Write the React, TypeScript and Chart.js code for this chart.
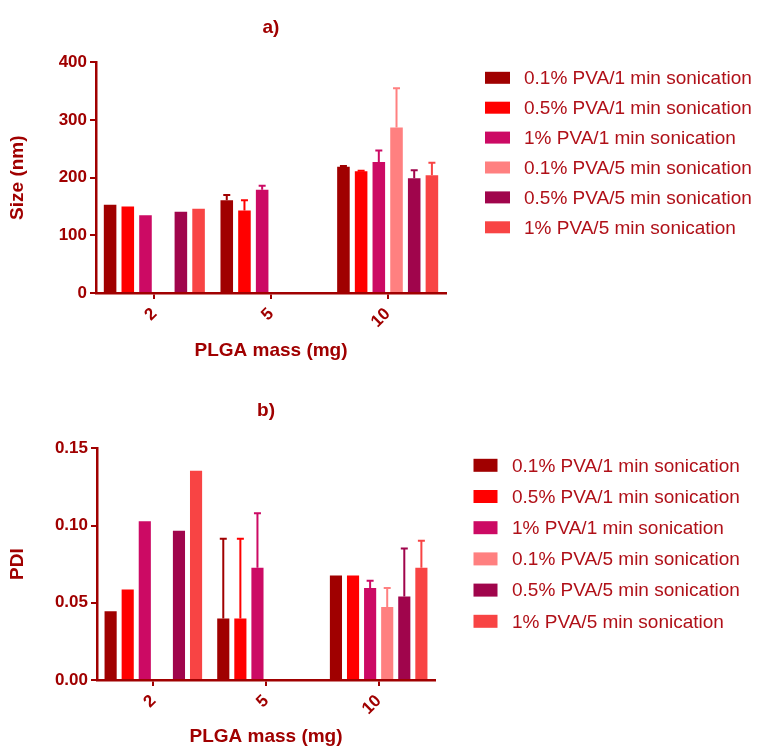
import React, { useEffect, useRef } from "react";
import { Chart, registerables } from "chart.js";

Chart.register(...registerables);

// ---- data ----
const categories = ["2", "5", "10"];
const seriesLabels = [
  "0.1% PVA/1 min sonication",
  "0.5% PVA/1 min sonication",
  "1% PVA/1 min sonication",
  "0.1% PVA/5 min sonication",
  "0.5% PVA/5 min sonication",
  "1% PVA/5 min sonication",
];
const seriesColors = ["#A00000", "#FF0000", "#CC0A64", "#FF8080", "#A0054C", "#F84444"];

// Size (nm) means
const size01_1 = [153, 161, 219];
const size05_1 = [150, 143, 211];
const size1_1 = [135, 179, 227];
const size01_5 = [null, null, 287];
const size05_5 = [141, null, 199];
const size1_5 = [146, null, 204];
// Size SD (upper error)
const sizeSd01_1 = [0, 9, 1];
const sizeSd05_1 = [0, 18, 1];
const sizeSd1_1 = [0, 7, 20];
const sizeSd01_5 = [null, null, 68];
const sizeSd05_5 = [0, null, 14];
const sizeSd1_5 = [0, null, 22];

// PDI means
const pdi01_1 = [0.0445, 0.0398, 0.0676];
const pdi05_1 = [0.0586, 0.0398, 0.0676];
const pdi1_1 = [0.1027, 0.0726, 0.0596];
const pdi01_5 = [null, null, 0.0473];
const pdi05_5 = [0.0966, null, 0.054];
const pdi1_5 = [0.1355, null, 0.0726];
// PDI SD (upper error)
const pdiSd01_1 = [0, 0.0516, 0];
const pdiSd05_1 = [0, 0.0516, 0];
const pdiSd1_1 = [0, 0.0354, 0.0046];
const pdiSd01_5 = [null, null, 0.0123];
const pdiSd05_5 = [0, null, 0.0312];
const pdiSd1_5 = [0, null, 0.0175];

const sizeTicks = [0, 100, 200, 300, 400];
const pdiTicks = [0, 0.05, 0.1, 0.15];

const AXIS = "#A00000";
const LEGEND_TEXT = "#B01018";
const FONT = "Arial, 'Liberation Sans', Helvetica, sans-serif";

const errorBarPlugin = {
  id: "errorBars",
  afterDatasetsDraw(chart: any) {
    const ctx = chart.ctx;
    const yScale = chart.scales.y;
    chart.data.datasets.forEach((ds: any, i: number) => {
      const meta = chart.getDatasetMeta(i);
      const errs = ds.errors || [];
      meta.data.forEach((el: any, j: number) => {
        const v = ds.data[j];
        const e = errs[j];
        if (v == null || e == null || e <= 0) return;
        const x = el.x;
        const y0 = yScale.getPixelForValue(v);
        const y1 = yScale.getPixelForValue(v + e);
        ctx.save();
        ctx.strokeStyle = ds.backgroundColor;
        ctx.lineWidth = 2;
        ctx.beginPath();
        ctx.moveTo(x, y0);
        ctx.lineTo(x, y1);
        ctx.moveTo(x - 3.5, y1);
        ctx.lineTo(x + 3.5, y1);
        ctx.stroke();
        ctx.restore();
      });
    });
  },
};

const sideLegendPlugin = {
  id: "sideLegend",
  afterDraw(chart: any, _args: any, opts: any) {
    const ctx = chart.ctx;
    const area = chart.chartArea;
    ctx.save();
    ctx.font = `${opts.fontSize}px ${FONT}`;
    ctx.textBaseline = "middle";
    ctx.textAlign = "left";
    chart.data.datasets.forEach((ds: any, i: number) => {
      const cy = area.top + opts.firstY + i * opts.step;
      ctx.fillStyle = ds.backgroundColor;
      ctx.fillRect(area.right + opts.boxX, cy - opts.boxH / 2, opts.boxW, opts.boxH);
      ctx.fillStyle = LEGEND_TEXT;
      ctx.fillText(ds.label, area.right + opts.textX, cy + 1);
    });
    ctx.restore();
  },
};

type Props = {
  title: string;
  yTitle: string;
  series: (number | null)[][];
  errors: (number | null)[][];
  yTicks: number[];
  decimals: number;
  height: number;
  top: number;
  yAxisWidth: number;
  padRight: number;
  titlePadTop: number;
  titlePadBottom: number;
  xAxisHeight: number;
  xTitlePadBottom: number;
  legend: any;
};

function BarPanel(p: Props) {
  const ref = useRef<HTMLCanvasElement | null>(null);
  useEffect(() => {
    if (!ref.current) return;
    const yMax = p.yTicks[p.yTicks.length - 1];
    const chart = new Chart(ref.current, {
      type: "bar",
      data: {
        labels: categories,
        datasets: p.series.map((d, i) => ({
          label: seriesLabels[i],
          data: d as any,
          errors: p.errors[i],
          backgroundColor: seriesColors[i],
          borderWidth: 0,
          categoryPercentage: 0.91,
          barPercentage: 0.71,
        })) as any,
      },
      options: {
        animation: false,
        responsive: false,
        maintainAspectRatio: false,
        devicePixelRatio: 1,
        layout: { padding: { left: 0, right: p.padRight, top: 0, bottom: 0 } },
        plugins: {
          legend: { display: false },
          tooltip: { enabled: false },
          title: {
            display: true,
            text: p.title,
            fullSize: false,
            color: AXIS,
            font: { family: FONT, size: 19, weight: "bold" },
            padding: { top: p.titlePadTop, bottom: p.titlePadBottom },
          },
          sideLegend: p.legend,
        } as any,
        scales: {
          x: {
            grid: {
              display: true,
              offset: false,
              drawOnChartArea: false,
              drawTicks: true,
              tickLength: 6,
              color: AXIS,
              lineWidth: 2,
            },
            border: { display: true, color: AXIS, width: 2.5 },
            ticks: {
              color: AXIS,
              font: { family: FONT, size: 17, weight: "bold" },
              minRotation: 45,
              maxRotation: 45,
              padding: 5,
            },
            title: {
              display: true,
              text: "PLGA mass (mg)",
              color: AXIS,
              font: { family: FONT, size: 19, weight: "bold" },
              padding: { top: 0, bottom: p.xTitlePadBottom },
            },
            afterFit(scale: any) {
              scale.height = p.xAxisHeight;
            },
          },
          y: {
            min: 0,
            max: yMax,
            afterBuildTicks(scale: any) {
              scale.ticks = p.yTicks.map((v) => ({ value: v }));
            },
            grid: {
              display: true,
              drawOnChartArea: false,
              drawTicks: true,
              tickLength: 6,
              color: AXIS,
              lineWidth: 2,
            },
            border: { display: true, color: AXIS, width: 2.5 },
            ticks: {
              color: AXIS,
              font: { family: FONT, size: 17, weight: "bold" },
              padding: 3,
              callback: (v: any) => Number(v).toFixed(p.decimals),
            },
            title: {
              display: true,
              text: p.yTitle,
              color: AXIS,
              font: { family: FONT, size: 19, weight: "bold" },
              padding: { top: 6, bottom: 0 },
            },
            afterFit(scale: any) {
              scale.width = p.yAxisWidth;
            },
          },
        },
      },
      plugins: [errorBarPlugin, sideLegendPlugin],
    } as any);
    return () => chart.destroy();
  }, []);
  return (
    <canvas
      ref={ref}
      width={757}
      height={p.height}
      style={{ position: "absolute", left: 0, top: p.top, width: 757, height: p.height }}
    />
  );
}

export default function App() {
  return (
    <div style={{ position: "absolute", left: 0, top: 0, width: 757, height: 746, background: "#fff" }}>
      <BarPanel
        title="a)"
        yTitle="Size (nm)"
        series={[size01_1, size05_1, size1_1, size01_5, size05_5, size1_5]}
        errors={[sizeSd01_1, sizeSd05_1, sizeSd1_1, sizeSd01_5, sizeSd05_5, sizeSd1_5]}
        yTicks={sizeTicks}
        decimals={0}
        height={372}
        top={0}
        yAxisWidth={96}
        padRight={311}
        titlePadTop={16}
        titlePadBottom={23.5}
        xAxisHeight={79}
        xTitlePadBottom={10}
        legend={{ firstY: 15.5, step: 29.9, boxX: 39, boxW: 25, boxH: 12, textX: 78, fontSize: 19 }}
      />
      <BarPanel
        title="b)"
        yTitle="PDI"
        series={[pdi01_1, pdi05_1, pdi1_1, pdi01_5, pdi05_5, pdi1_5]}
        errors={[pdiSd01_1, pdiSd05_1, pdiSd1_1, pdiSd01_5, pdiSd05_5, pdiSd1_5]}
        yTicks={pdiTicks}
        decimals={2}
        height={374}
        top={372}
        yAxisWidth={97}
        padRight={322}
        titlePadTop={27}
        titlePadBottom={26.5}
        xAxisHeight={66}
        xTitlePadBottom={-2}
        legend={{ firstY: 17, step: 31.2, boxX: 38.5, boxW: 24, boxH: 13, textX: 77, fontSize: 19 }}
      />
    </div>
  );
}
